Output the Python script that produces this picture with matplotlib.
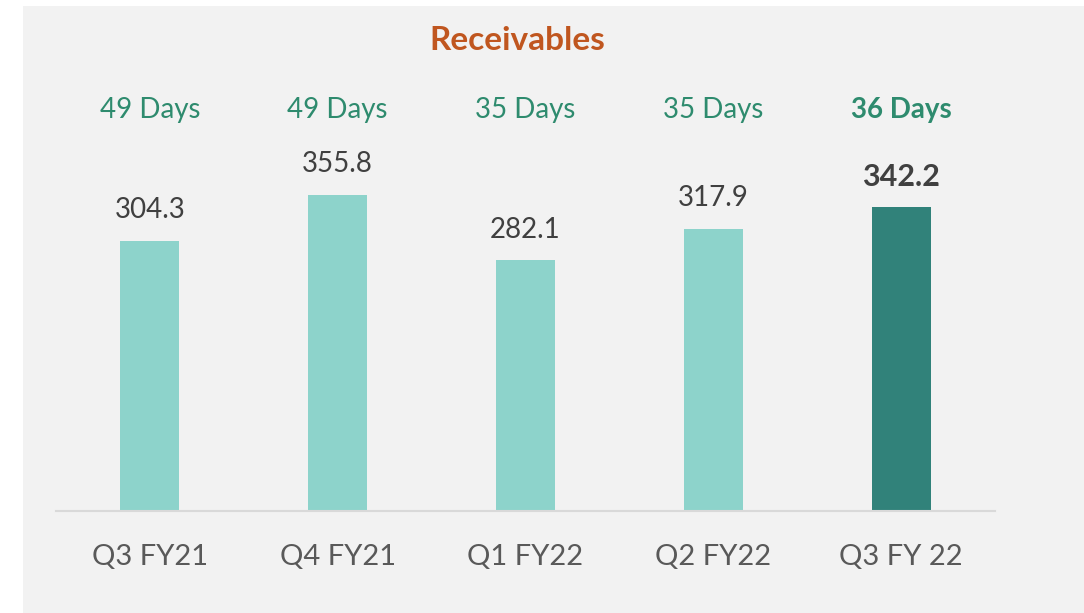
import matplotlib.pyplot as plt
import matplotlib.transforms as mtransforms
from matplotlib.patches import Rectangle

quarters = ["Q3 FY21", "Q4 FY21", "Q1 FY22", "Q2 FY22", "Q3 FY 22"]
receivables = [304.3, 355.8, 282.1, 317.9, 342.2]
days = ["49 Days", "49 Days", "35 Days", "35 Days", "36 Days"]

light = "#8dd3cb"
dark = "#31827a"
green_txt = "#2e8b6e"

plt.rcParams["font.family"] = ["Lato", "DejaVu Sans"]

W, H = 1084, 613
fig = plt.figure(figsize=(W / 100, H / 100), dpi=100, facecolor="white")
# grey panel behind the chart
fig.add_artist(Rectangle((23 / W, 0), 1 - 23 / W, (H - 6) / H,
                         transform=fig.transFigure, facecolor="#f2f2f2",
                         edgecolor="none", zorder=-10))

ax = fig.add_axes([56 / W, (H - 511) / H, 939 / W, 505 / H])
ax.set_facecolor("none")
ax.set_zorder(1)

x = range(len(quarters))
colors = [light] * (len(quarters) - 1) + [dark]
ax.bar(x, receivables, width=0.314, color=colors, zorder=2)

ax.set_xlim(-0.5, len(quarters) - 0.5)
ax.set_ylim(0, 568.6)
ax.set_yticks([])
for s in ["top", "right", "left"]:
    ax.spines[s].set_visible(False)
ax.spines["bottom"].set_color("#d9d9d9")
ax.spines["bottom"].set_linewidth(1.5)
ax.set_xticks(list(x))
ax.set_xticklabels(quarters, fontsize=21, color="#595959")
ax.tick_params(axis="x", length=0, pad=24)

last = len(quarters) - 1
for i, v in enumerate(receivables):
    bold = i == last
    ax.annotate(f"{v:.1f}", (i, v), xytext=(0, 22), textcoords="offset points",
                ha="center", va="center", fontsize=22 if bold else 20,
                color="#404040", fontweight="bold" if bold else "normal")

trans = mtransforms.blended_transform_factory(ax.transData, fig.transFigure)
for i, d in enumerate(days):
    ax.text(i, (H - 110) / H, d, transform=trans, ha="center", va="center",
            fontsize=20, color=green_txt,
            fontweight="bold" if i == last else "normal")

fig.text(517 / W, (H - 40) / H, "Receivables", ha="center", va="center",
         fontsize=24, fontweight="bold", color="#c0561f")

fig.savefig("out.png", dpi=100, facecolor="white")
